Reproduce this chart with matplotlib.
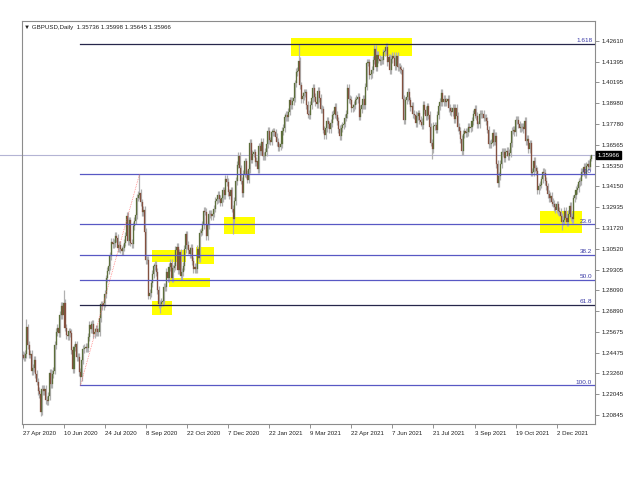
import numpy as np
import pandas as pd
import matplotlib
matplotlib.use("Agg")
import matplotlib.pyplot as plt
from matplotlib.transforms import blended_transform_factory

plt.rcParams['font.family'] = ['Liberation Sans', 'DejaVu Sans']

# GBPUSD daily closes, 27 Apr 2020 .. 10 Jan 2022 (one row per week)
closes = [
    1.2431, 1.2418, 1.2440, 1.2594, 1.2490,
    1.2436, 1.2439, 1.2338, 1.2358, 1.2405,
    1.2322, 1.2279, 1.2224, 1.2207, 1.2104,
    1.2237, 1.2224, 1.2236, 1.2172, 1.2164,
    1.2194, 1.2330, 1.2262, 1.2324, 1.2343,
    1.2490, 1.2566, 1.2592, 1.2562, 1.2667,
    1.2718, 1.2666, 1.2735, 1.2593, 1.2550,
    1.2544, 1.2571, 1.2563, 1.2462, 1.2351,
    1.2478, 1.2495, 1.2423, 1.2422, 1.2335,
    1.2303, 1.2404, 1.2469, 1.2475, 1.2480,
    1.2474, 1.2539, 1.2608, 1.2585, 1.2616,
    1.2553, 1.2566, 1.2585, 1.2566, 1.2568,
    1.2648, 1.2728, 1.2718, 1.2736, 1.2788,
    1.2879, 1.2925, 1.2949, 1.3009, 1.3091,
    1.3081, 1.3086, 1.3125, 1.3114, 1.3055,
    1.3076, 1.3048, 1.3040, 1.3059, 1.3087,
    1.3125, 1.3243, 1.3095, 1.3217, 1.3088,
    1.3080, 1.3183, 1.3216, 1.3246, 1.3350,
    1.3366, 1.3377, 1.3321, 1.3263, 1.3279,
    1.3152, 1.2985, 1.2986, 1.2779, 1.2795,
    1.2850, 1.2905, 1.2949, 1.2959, 1.2916,
    1.2813, 1.2731, 1.2733, 1.2742, 1.2750,
    1.2830, 1.2827, 1.2918, 1.2881, 1.2945,
    1.2968, 1.2881, 1.2938, 1.2951, 1.3046,
    1.3061, 1.2929, 1.3030, 1.2893, 1.2916,
    1.2950, 1.3050, 1.3135, 1.3073, 1.3042,
    1.3021, 1.3055, 1.2982, 1.2933, 1.2945,
    1.2933, 1.3052, 1.2996, 1.3146, 1.3153,
    1.3191, 1.3270, 1.3268, 1.3124, 1.3190,
    1.3256, 1.3255, 1.3240, 1.3256, 1.3286,
    1.3332, 1.3341, 1.3366, 1.3343, 1.3320,
    1.3346, 1.3391, 1.3364, 1.3458, 1.3441,
    1.3380, 1.3361, 1.3391, 1.3285, 1.3225,
    1.3330, 1.3446, 1.3542, 1.3590, 1.3520,
    1.3448, 1.3375, 1.3489, 1.3560,
    1.3488, 1.3454, 1.3517, 1.3670,
    # 2021
    1.3570, 1.3606, 1.3612, 1.3558, 1.3565,
    1.3516, 1.3647, 1.3620, 1.3672, 1.3589,
    1.3593, 1.3614, 1.3660, 1.3738, 1.3683,
    1.3675, 1.3729, 1.3735, 1.3729, 1.3702,
    1.3673, 1.3644, 1.3646, 1.3663, 1.3736,
    1.3755, 1.3818, 1.3831, 1.3820, 1.3850,
    1.3915, 1.3886, 1.3912, 1.3927, 1.4014,
    1.4080, 1.4087, 1.4145, 1.4003, 1.3925,
    1.3941, 1.3958, 1.3962, 1.3890, 1.3835,
    1.3829, 1.3889, 1.3927, 1.3988, 1.3934,
    1.3905, 1.3894, 1.3971, 1.3929, 1.3865,
    1.3863, 1.3745, 1.3714, 1.3755, 1.3795,
    1.3775, 1.3746, 1.3785, 1.3830, 1.3835,
    1.3879, 1.3831, 1.3795, 1.3750, 1.3707,
    1.3756, 1.3770, 1.3780, 1.3815, 1.3835,
    1.3986, 1.3925, 1.3916, 1.3872, 1.3875,
    1.3890, 1.3915, 1.3925, 1.3936, 1.3821,
    1.3865, 1.3890, 1.3922, 1.3888, 1.3995,
    1.4135, 1.4136, 1.4064, 1.4070, 1.4095,
    1.4150, 1.4216, 1.4110, 1.4180, 1.4155,
    1.4145, 1.4150, 1.4150, 1.4195, 1.4205,
    1.4225, 1.4140, 1.4165, 1.4090, 1.4155,
    1.4175, 1.4160, 1.4115, 1.4175, 1.4110,
    1.4110, 1.4097, 1.4090, 1.3926, 1.3800,
    1.3915, 1.3935, 1.3966, 1.3915, 1.3878,
    1.3885, 1.3835, 1.3830, 1.3785, 1.3825,
    1.3840, 1.3800, 1.3790, 1.3770, 1.3890,
    1.3860, 1.3825, 1.3880, 1.3830, 1.3760,
    1.3670, 1.3630, 1.3765, 1.3770, 1.3745,
    1.3830, 1.3880, 1.3905, 1.3960, 1.3905,
    1.3925, 1.3905, 1.3910, 1.3925, 1.3870,
    1.3855, 1.3845, 1.3870, 1.3805, 1.3870,
    1.3825, 1.3760, 1.3740, 1.3690, 1.3620,
    1.3720, 1.3735, 1.3725, 1.3730, 1.3760,
    1.3755, 1.3760, 1.3795, 1.3835, 1.3865,
    1.3825, 1.3775, 1.3775, 1.3835, 1.3835,
    1.3835, 1.3815, 1.3815, 1.3795, 1.3745,
    1.3660, 1.3660, 1.3670, 1.3725, 1.3675,
    1.3710, 1.3545, 1.3435, 1.3475, 1.3545,
    1.3615, 1.3615, 1.3580, 1.3615, 1.3620,
    1.3590, 1.3610, 1.3665, 1.3740, 1.3745,
    1.3730, 1.3800, 1.3800, 1.3775, 1.3755,
    1.3760, 1.3760, 1.3750, 1.3795, 1.3680,
    1.3690, 1.3630, 1.3665, 1.3495, 1.3500,
    1.3565, 1.3520, 1.3505, 1.3395, 1.3415,
    1.3425, 1.3455, 1.3500, 1.3495, 1.3445,
    1.3415, 1.3370, 1.3345, 1.3360, 1.3325,
    1.3315, 1.3295, 1.3280, 1.3310, 1.3270,
    1.3265, 1.3240, 1.3210, 1.3220, 1.3270,
    1.3230, 1.3205, 1.3255, 1.3300, 1.3235,
    1.3225, 1.3345, 1.3365, 1.3395, 1.3405,
    1.3440, 1.3445, 1.3500, 1.3500, 1.3530,
    # 2022
    1.3485, 1.3535, 1.3545, 1.3530, 1.3574,
    1.35966,
]
first_open = 1.2434
last_bar = {"open": 1.35736, "high": 1.35998, "low": 1.35645, "close": 1.35966}

# notable daily extremes
spike_high = {"2020-04-30": 1.2643, "2020-06-10": 1.2813, "2020-09-01": 1.3485,
              "2021-02-24": 1.4241, "2021-06-01": 1.4250, "2022-01-10": 1.35998}
spike_low = {"2020-05-15": 1.2078, "2020-06-29": 1.2256, "2020-09-23": 1.2676,
             "2020-12-11": 1.3135, "2021-07-20": 1.3572, "2021-09-29": 1.3411,
             "2021-12-08": 1.3161, "2022-01-10": 1.35645}

holidays = ["2020-12-25", "2021-01-01"]

# fibonacci object
fib_from, fib_to = "2020-06-29", "2020-09-01"
fib_low, fib_high = 1.2256, 1.3485
fib_ratios = [-0.618, 0.0, 0.236, 0.382, 0.5, 0.618, 1.0]
fib_labels = ["1.618", "0.0", "23.6", "38.2", "50.0", "61.8", "100.0"]

# yellow rectangles: start date, end date, top price, bottom price
rect_start = ["2021-02-16", "2021-11-15", "2020-12-02", "2020-09-15", "2020-11-02", "2020-10-02", "2020-09-15"]
rect_end = ["2021-06-28", "2021-12-30", "2021-01-07", "2020-10-21", "2020-11-20", "2020-11-17", "2020-10-06"]
rect_top = [1.4278, 1.3269, 1.3237, 1.3047, 1.3062, 1.2884, 1.2745]
rect_bottom = [1.4174, 1.3143, 1.3138, 1.2972, 1.2963, 1.2832, 1.2666]

price_ticks = [1.42610, 1.41395, 1.40195, 1.38980, 1.37780, 1.36565, 1.35350, 1.34150,
               1.32935, 1.31720, 1.30520, 1.29305, 1.28090, 1.26890, 1.25675, 1.24475,
               1.23260, 1.22045, 1.20845]

dates = pd.bdate_range("2020-04-27", "2022-01-10")
dates = dates[~dates.isin(pd.to_datetime(holidays))]
pos = {d.strftime("%Y-%m-%d"): i for i, d in enumerate(dates)}

c = np.array(closes)
o = np.concatenate([[first_open], c[:-1]])
o[-1] = last_bar["open"]
wick = 0.0022
h = np.maximum(o, c) + wick
l = np.minimum(o, c) - wick
for d, v in spike_high.items():
    h[pos[d]] = v
for d, v in spike_low.items():
    l[pos[d]] = v
x = np.arange(len(c))

fig = plt.figure(figsize=(6.4, 4.8), dpi=100)
ax = fig.add_axes([22 / 640, 1 - 424 / 480, 573 / 640, 403 / 480])
ax.set_xlim(-0.5, 445.8)
ax.set_ylim(1.20317, 1.43774)

for s, e, t, b in zip(rect_start, rect_end, rect_top, rect_bottom):
    ax.fill_between([pos[s], pos[e]], b, t, color="#ffff00", lw=0, zorder=1)

# candles
ax.vlines(x, l, h, color="#b0b0b0", lw=0.9, zorder=3)
up = c >= o
ax.bar(x[up], (c - o)[up], bottom=o[up], width=0.8, color="#5c6e3a",
       edgecolor="#5c6e3a", lw=0.2, zorder=4)
ax.bar(x[~up], (o - c)[~up], bottom=c[~up], width=0.8, color="#84503f",
       edgecolor="#84503f", lw=0.2, zorder=4)

# fibonacci levels
xr = ax.get_xlim()[1]
tr = blended_transform_factory(ax.transAxes, ax.transData)
level_colors = ["#26264a", "#5858c4", "#5858c4", "#5858c4", "#5858c4", "#26264a", "#5858c4"]
for r, lab, col in zip(fib_ratios, fib_labels, level_colors):
    lvl = fib_high - r * (fib_high - fib_low)
    ax.plot([pos[fib_from], xr], [lvl, lvl], color=col, lw=0.9, zorder=5)
    ax.text(0.995, lvl + 0.0003, lab, transform=tr, ha="right", va="bottom",
            fontsize=4.6, color="#3b3ba6", zorder=6)
ax.plot([pos[fib_from], pos[fib_to]], [fib_low, fib_high], color="#ff5a5a",
        lw=0.5, ls=(0, (1, 1.5)), zorder=5)

# current price line
cur = last_bar["close"]
trf = blended_transform_factory(fig.transFigure, ax.transData)
ax.plot([0, 595 / 640], [cur, cur], transform=trf, color="#b4b4d4", lw=0.8,
        clip_on=False, zorder=2)
ax.text(1.004, cur, f"{cur:.5f}", transform=tr, ha="left", va="center",
        fontsize=4.4, color="white", zorder=7,
        bbox=dict(facecolor="black", edgecolor="black", pad=1.2))

ax.yaxis.tick_right()
ax.set_yticks(price_ticks)
ax.set_yticklabels([f"{p:.5f}" for p in price_ticks])
ax.tick_params(axis="y", length=3, width=0.6, color="#808080", pad=1.5,
               labelsize=4.4, labelcolor="#202020")

xt = list(range(0, len(dates), 32))
ax.set_xticks(xt)
ax.set_xticklabels([f"{dates[i].day} {dates[i]:%b %Y}" for i in xt], ha="left")
ax.tick_params(axis="x", length=3, width=0.6, color="#808080", pad=2,
               labelsize=4.4, labelcolor="#202020")

for sp in ax.spines.values():
    sp.set_color("#8c8c8c")
    sp.set_linewidth(0.8)

fig.text(24 / 640, 1 - 28 / 480,
         f"▼ GBPUSD,Daily  {last_bar['open']:.5f} {last_bar['high']:.5f} "
         f"{last_bar['low']:.5f} {last_bar['close']:.5f}",
         fontsize=4.4, va="center", color="#202020")

fig.savefig("out.png", dpi=100)
